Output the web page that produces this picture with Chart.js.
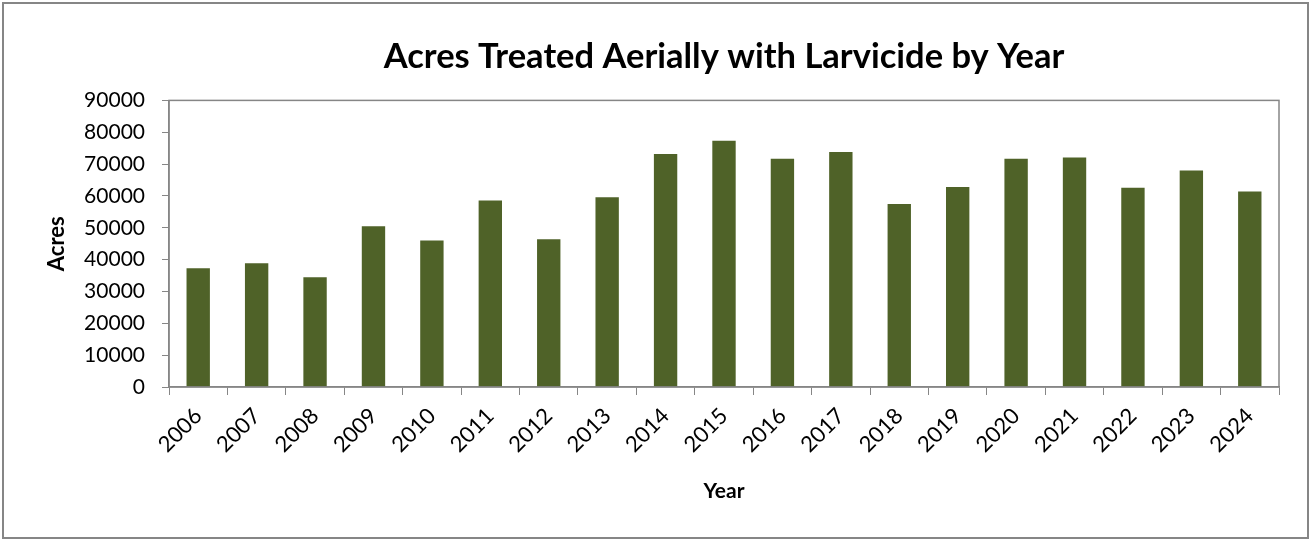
<!DOCTYPE html>
<html lang="en">
<head>
  <meta charset="UTF-8">
  <title>Acres Treated Aerially with Larvicide by Year</title>
  <script src="https://cdn.jsdelivr.net/npm/chart.js@4.4.1/dist/chart.umd.min.js"></script>
  <style>
    * {
      padding: 0;
      margin: 0;
    }
    body {
      background-color: #fff;
    }
    #chart {
      display: block;
    }
  </style>
</head>
<body>
  <canvas id="chart" width="1310" height="540"></canvas>

  <script>
    const years = ['2006', '2007', '2008', '2009', '2010', '2011', '2012', '2013', '2014', '2015',
                   '2016', '2017', '2018', '2019', '2020', '2021', '2022', '2023', '2024'];
    const acres = [37300, 38900, 34500, 50500, 46000, 58600, 46400, 59600, 73200, 77300,
                   71700, 73800, 57500, 62800, 71700, 72100, 62600, 68000, 61400];

    const axisGray = '#868686';
    const fontFamily = 'Lato, "Open Sans", sans-serif';

    // outer frame + box round the plot area
    const framePlugin = {
      id: 'frame',
      beforeDraw(chart) {
        const ctx = chart.ctx;
        ctx.save();
        ctx.fillStyle = '#fff';
        ctx.fillRect(0, 0, chart.width, chart.height);
        ctx.restore();
      },
      afterDraw(chart) {
        const ctx = chart.ctx;
        const a = chart.chartArea;
        ctx.save();
        ctx.strokeStyle = axisGray;
        ctx.lineWidth = 2;
        ctx.strokeRect(3, 3, chart.width - 5, chart.height - 5);
        ctx.lineWidth = 1.5;
        ctx.strokeRect(a.left, a.top, a.right - a.left, a.bottom - a.top);
        ctx.restore();
      }
    };

    const config = {
      type: 'bar',
      data: {
        labels: years,
        datasets: [{
          label: 'Acres',
          data: acres,
          backgroundColor: '#4F6228',
          borderWidth: 0,
          categoryPercentage: 1,
          barPercentage: 0.4
        }]
      },
      options: {
        responsive: false,
        animation: false,
        layout: {
          padding: { left: 0, right: 31, top: 0, bottom: 0 }
        },
        plugins: {
          legend: { display: false },
          tooltip: { enabled: false },
          title: {
            display: true,
            fullSize: false,
            text: 'Acres Treated Aerially with Larvicide by Year',
            color: '#000',
            font: { family: fontFamily, size: 34.5, weight: 'bold' },
            padding: { top: 36, bottom: 23 }
          }
        },
        scales: {
          x: {
            grid: {
              drawOnChartArea: false,
              color: axisGray,
              tickLength: 8,
              offset: true
            },
            border: { color: axisGray, width: 1.5 },
            ticks: {
              color: '#000',
              font: { family: fontFamily, size: 22 },
              minRotation: 45,
              maxRotation: 45,
              padding: 8
            },
            title: {
              display: true,
              text: 'Year',
              color: '#000',
              font: { family: fontFamily, size: 21, weight: 'bold' },
              padding: { top: 0, bottom: 36 }
            },
            afterFit(scale) {
              scale.height = 153;
            }
          },
          y: {
            min: 0,
            max: 90000,
            grid: {
              drawOnChartArea: false,
              color: axisGray,
              tickLength: 7
            },
            border: { color: axisGray, width: 1.5 },
            ticks: {
              stepSize: 10000,
              color: '#000',
              font: { family: fontFamily, size: 21 },
              padding: 17,
              callback: (value) => String(value)
            },
            title: {
              display: true,
              text: 'Acres',
              color: '#000',
              font: { family: fontFamily, size: 22, weight: 'bold' },
              padding: { top: 44, bottom: 0 }
            },
            afterFit(scale) {
              scale.width = 169;
            }
          }
        }
      },
      plugins: [framePlugin]
    };

    const barChart = new Chart(document.getElementById('chart').getContext('2d'), config);
  </script>
</body>
</html>
